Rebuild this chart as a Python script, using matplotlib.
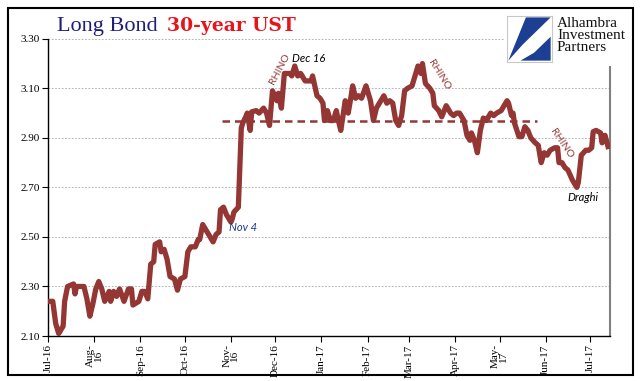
import matplotlib
matplotlib.use("Agg")
import matplotlib.pyplot as plt
from matplotlib.patches import Rectangle, Polygon
import numpy as np
import pandas as pd

# days since 2016-07-01 and 30-year UST yield (%)
day = [0, 3, 5, 7, 9, 10, 11, 13, 17, 18, 19, 24, 26, 28, 30, 32, 34, 36, 38, 41,
       42, 44, 46, 48, 51, 54, 56, 57, 61, 63, 65, 67, 69, 71, 72, 75, 76, 78, 80, 82,
       85, 87, 89, 92, 94, 96, 99, 101, 102, 104, 106, 108, 111, 113, 115, 116, 118, 120, 123, 124,
       125, 128, 130, 131, 133, 134, 136, 137, 140, 142, 145, 147, 149, 151, 154, 155, 157, 159, 163, 164,
       166, 168, 170, 173, 177, 178, 181, 183, 185, 186, 188, 190, 192, 194, 195, 197, 200, 202, 204, 205,
       207, 209, 211, 214, 217, 219, 221, 223, 226, 228, 230, 232, 234, 236, 238, 240, 242, 245, 247, 249,
       251, 252, 254, 257, 259, 260, 263, 265, 268, 271, 273, 275, 277, 280, 282, 284, 285, 287, 289, 291,
       293, 295, 298, 300, 302, 305, 309, 310, 312, 313, 314, 317, 319, 321, 323, 325, 328, 330, 332, 334,
       336, 338, 341, 343, 344, 346, 348, 350, 353, 356, 357, 359, 362, 364, 366, 367, 369, 372, 373, 375,
       377]
yld = [2.24, 2.24, 2.15, 2.11, 2.13, 2.14, 2.24, 2.30, 2.31, 2.27, 2.30, 2.30, 2.25, 2.18, 2.23, 2.29, 2.32, 2.29, 2.24, 2.28,
       2.24, 2.28, 2.26, 2.29, 2.24, 2.29, 2.29, 2.225, 2.24, 2.28, 2.28, 2.25, 2.39, 2.40, 2.47, 2.48, 2.44, 2.45, 2.41, 2.34,
       2.33, 2.285, 2.33, 2.34, 2.44, 2.46, 2.46, 2.49, 2.49, 2.55, 2.53, 2.51, 2.48, 2.51, 2.52, 2.61, 2.62, 2.59, 2.56, 2.575,
       2.60, 2.62, 2.94, 2.96, 2.985, 3.00, 2.93, 3.005, 3.01, 3.00, 3.02, 3.00, 2.95, 3.09, 3.05, 3.08, 3.02, 3.16, 3.16, 3.15,
       3.19, 3.15, 3.16, 3.13, 3.13, 3.15, 3.07, 3.06, 3.04, 2.97, 3.01, 2.97, 2.97, 3.01, 2.98, 2.93, 3.05, 3.00, 3.07, 3.11,
       3.06, 3.07, 3.06, 3.11, 3.05, 2.97, 3.02, 3.04, 3.07, 3.04, 3.05, 3.04, 2.97, 2.95, 2.99, 3.09, 3.10, 3.11, 3.15, 3.19,
       3.16, 3.20, 3.12, 3.10, 3.08, 3.03, 3.01, 2.985, 3.03, 3.00, 2.99, 3.00, 3.00, 2.97, 2.91, 2.89, 2.92, 2.89, 2.84, 2.93,
       2.98, 2.97, 3.00, 2.99, 3.00, 3.01, 3.05, 3.04, 2.99, 3.00, 2.96, 2.905, 2.905, 2.945, 2.93, 2.90, 2.88, 2.87, 2.80, 2.84,
       2.83, 2.85, 2.86, 2.86, 2.80, 2.80, 2.78, 2.77, 2.73, 2.70, 2.72, 2.83, 2.85, 2.85, 2.86, 2.925, 2.93, 2.92, 2.88, 2.91,
       2.865]

yticks = [2.10, 2.30, 2.50, 2.70, 2.90, 3.10, 3.30]
month_labels = ['Jul-16', 'Aug-\n16', 'Sep-16', 'Oct-16', 'Nov-\n16', 'Dec-16', 'Jan-17',
                'Feb-17', 'Mar-17', 'Apr-17', 'May-\n17', 'Jun-17', 'Jul-17']

# "RHINO" range line
range_level = 2.97
range_start, range_end = '2016-10-26', '2017-05-26'

line_color = '#943634'
base = pd.Timestamp('2016-07-01')
dates = base + pd.to_timedelta(day, unit='D')

W, H = 641, 381
fig = plt.figure(figsize=(W / 100, H / 100), dpi=100)
ax = fig.add_axes([48.3 / W, 1 - 336 / H, (609.5 - 48.3) / W, (336 - 38.8) / H])

ax.plot(dates, yld, color=line_color, lw=3.8, solid_joinstyle='round', zorder=3)
ax.plot([pd.Timestamp(range_start), pd.Timestamp(range_end)], [range_level, range_level],
        color=line_color, lw=1.8, linestyle=(0, (3, 2)), zorder=4)

ax.set_xlim(base, base + pd.Timedelta(days=378))
ax.set_ylim(2.10, 3.30)
ax.set_yticks(yticks)
ax.set_yticklabels(['%.2f' % v for v in yticks], family='Liberation Serif', fontsize=8)
ticks = pd.date_range('2016-07-01', '2017-07-01', freq='MS')
ax.set_xticks(ticks)
ax.set_xticklabels(month_labels, rotation=90, family='Liberation Serif', fontsize=8,
                   linespacing=0.85)
ax.tick_params(axis='both', direction='out', length=4, width=0.8, pad=2)

for v in yticks[1:]:
    ax.axhline(v, color='#a6a6a6', lw=0.6, linestyle=(0, (2, 2)), zorder=1)

ax.spines['top'].set_visible(False)
ax.spines['right'].set_color('#808080')
ax.spines['right'].set_linewidth(1.5)
ax.spines['left'].set_linewidth(1.0)
ax.spines['bottom'].set_linewidth(1.0)

# annotations
ann = dict(family='Lato', style='italic', fontsize=8)
ax.text(pd.Timestamp('2016-10-31'), 2.54, 'Nov 4', color='#1a3c8c', ha='left', va='center', **ann)
ax.text(pd.Timestamp('2016-12-12'), 3.222, 'Dec 16', color='#000000', ha='left', va='center', **ann)
ax.text(pd.Timestamp('2017-06-16'), 2.66, 'Draghi', color='#000000', ha='left', va='center', **ann)
rh = dict(family='Lato', fontsize=7.5, color=line_color, ha='center', va='center',
          rotation_mode='anchor')
ax.text(pd.Timestamp('2016-12-04'), 3.178, 'RHINO', rotation=62, **rh)
ax.text(pd.Timestamp('2017-03-21'), 3.154, 'RHINO', rotation=-58, **rh)
ax.text(pd.Timestamp('2017-06-12'), 2.878, 'RHINO', rotation=-56, **rh)

# title
ty = 1 - 31 / H
fig.text(57 / W, ty, 'Long Bond', color='#1f1f7a', family='Liberation Serif',
         fontsize=16, va='baseline')
fig.text(167 / W, ty, '30-year UST', color='#e8141c', family='DejaVu Serif',
         fontsize=13.5, fontweight='bold', va='baseline')

# logo
lax = fig.add_axes([507 / W, 1 - 62 / H, 45 / W, 46 / H])
lax.set_xlim(0, 1)
lax.set_ylim(0, 1)
lax.set_xticks([])
lax.set_yticks([])
for s in lax.spines.values():
    s.set_color('#c8c8c8')
    s.set_linewidth(0.8)
blue = '#1c3f94'
lax.add_patch(Polygon([(0.42, 0.97), (0.97, 0.97), (0.35, 0.38), (0.03, 0.03)],
                      closed=True, color=blue, lw=0))
lax.add_patch(Polygon([(0.3, 0.03), (0.97, 0.03), (0.97, 0.55), (0.6, 0.2)], closed=True, color=blue, lw=0))
lax.patch.set_facecolor('white')
lax.set_zorder(5)
# white backing that hides grid/spine behind logo block
fig.patches.append(Rectangle((505 / W, 1 - 66 / H), 126 / W, 52 / H, transform=fig.transFigure,
                             facecolor='white', edgecolor='none', zorder=4))
fig.text(557 / W, 1 - 17 / H, 'Alhambra\nInvestment\nPartners', family='Liberation Serif',
         fontsize=11, color='#111111', va='top', ha='left', linespacing=0.88, zorder=6)

# outer border
fig.patches.append(Rectangle((7.5 / W, 1 - 375 / H), 625.5 / W, 367.5 / H, transform=fig.transFigure,
                             facecolor='none', edgecolor='black', lw=1.5, zorder=10))

fig.savefig('out.png', dpi=100)
